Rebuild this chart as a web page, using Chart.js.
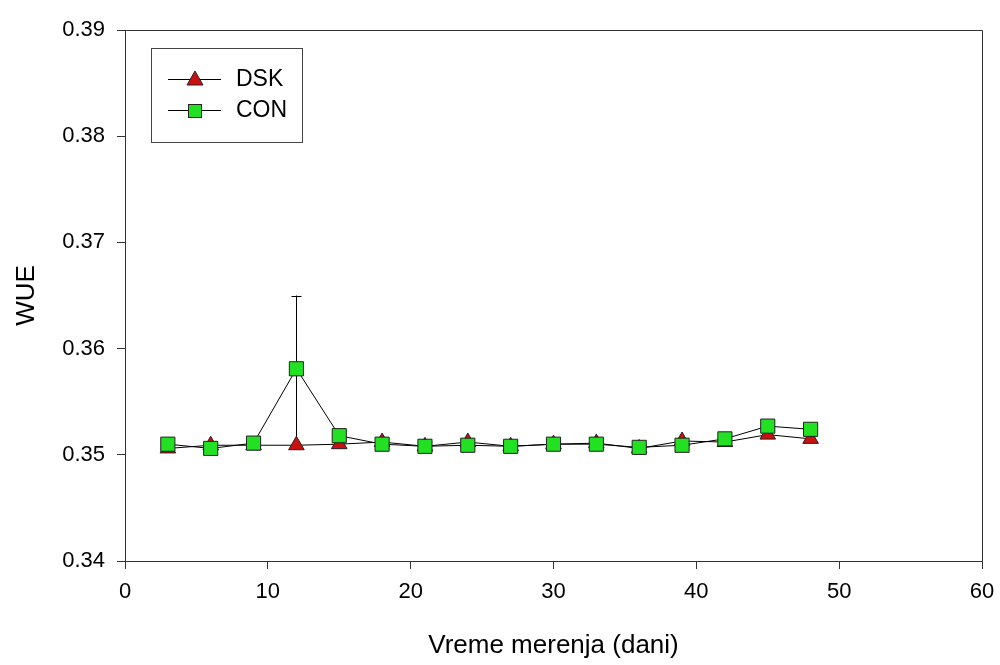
<!DOCTYPE html>
<html>
<head>
<meta charset="utf-8">
<script src="https://cdn.jsdelivr.net/npm/chart.js@4"></script>
<style>
html,body{margin:0;padding:0;background:#fff;}
canvas{display:block;}
</style>
</head>
<body>
<canvas id="c" width="1000" height="665"></canvas>
<script>
const days = [3, 6, 9, 12, 15, 18, 21, 24, 27, 30, 33, 36, 39, 42, 45, 48];
const dskValues = [0.3506, 0.3509, 0.3509, 0.3509, 0.3510, 0.3512, 0.3508, 0.3512, 0.3508, 0.3510, 0.3511, 0.3506, 0.3513, 0.3512, 0.3519, 0.3515];
const conValues = [0.3510, 0.3506, 0.3511, 0.3581, 0.3518, 0.3510, 0.3508, 0.3509, 0.3508, 0.3510, 0.3510, 0.3507, 0.3509, 0.3515, 0.3527, 0.3524];
const conErrors = [0, 0, 0, 0.0069, 0, 0, 0, 0, 0, 0, 0, 0, 0, 0, 0, 0];
const seriesNames = ['DSK', 'CON'];
const xTitle = 'Vreme merenja (dani)';
const yTitle = 'WUE';

const FONT = 'Arial, "Liberation Sans", sans-serif';
const RED = '#cc1010';
const GREEN = '#22e022';
const AXIS = '#333333';

const errorBars = {
  id: 'errorBars',
  beforeDatasetsDraw(chart) {
    const ctx = chart.ctx, xs = chart.scales.x, ys = chart.scales.y;
    ctx.save();
    ctx.strokeStyle = '#000';
    ctx.lineWidth = 1;
    days.forEach((d, i) => {
      const e = conErrors[i];
      if (!e) return;
      const px = Math.round(xs.getPixelForValue(d)) + 0.5;
      const top = ys.getPixelForValue(conValues[i] + e);
      const bot = ys.getPixelForValue(conValues[i] - e);
      ctx.beginPath();
      ctx.moveTo(px, top); ctx.lineTo(px, bot);
      ctx.moveTo(px - 5, Math.round(top) + 0.5); ctx.lineTo(px + 5, Math.round(top) + 0.5);
      ctx.stroke();
    });
    ctx.restore();
  }
};

const frame = {
  id: 'frame',
  afterDraw(chart) {
    const ctx = chart.ctx, a = chart.chartArea;
    ctx.save();
    ctx.strokeStyle = AXIS;
    ctx.lineWidth = 1;
    ctx.beginPath();
    ctx.moveTo(Math.round(a.left) + 0.5, Math.round(a.top) + 0.5);
    ctx.lineTo(Math.round(a.right) + 0.5, Math.round(a.top) + 0.5);
    ctx.lineTo(Math.round(a.right) + 0.5, Math.round(a.bottom) + 0.5);
    ctx.stroke();
    // legend box
    const lx = 151, ly = 48, lw = 151, lh = 94;
    ctx.strokeStyle = '#444';
    ctx.strokeRect(lx + 0.5, ly + 0.5, lw, lh);
    const rows = [{y: 79, ds: chart.data.datasets[0]}, {y: 110, ds: chart.data.datasets[1]}];
    rows.forEach((r, i) => {
      ctx.strokeStyle = '#000';
      ctx.beginPath();
      ctx.moveTo(168, r.y + 0.5); ctx.lineTo(221, r.y + 0.5);
      ctx.stroke();
      ctx.fillStyle = r.ds.pointBackgroundColor;
      ctx.strokeStyle = '#222';
      if (i === 0) {
        ctx.beginPath();
        ctx.moveTo(195, r.y - 8); ctx.lineTo(203, r.y + 6); ctx.lineTo(187, r.y + 6); ctx.closePath();
        ctx.fill(); ctx.stroke();
      } else {
        ctx.fillRect(188, r.y - 6, 14, 14);
        ctx.strokeRect(188.5, r.y - 5.5, 13, 13);
      }
      ctx.fillStyle = '#000';
      ctx.font = '23px ' + FONT;
      ctx.textBaseline = 'middle';
      ctx.textAlign = 'left';
      ctx.fillText(seriesNames[i], 236, r.y + 1);
    });
    ctx.restore();
  }
};

new Chart(document.getElementById('c'), {
  type: 'line',
  data: {
    datasets: [
      {
        label: seriesNames[0],
        data: days.map((d, i) => ({x: d, y: dskValues[i]})),
        borderColor: '#000', borderWidth: 1,
        pointStyle: 'triangle', pointRadius: 9,
        pointBackgroundColor: RED, pointBorderColor: '#222', pointBorderWidth: 1,
        order: 1, tension: 0
      },
      {
        label: seriesNames[1],
        data: days.map((d, i) => ({x: d, y: conValues[i]})),
        borderColor: '#000', borderWidth: 1,
        pointStyle: 'rect', pointRadius: 10,
        pointBackgroundColor: GREEN, pointBorderColor: '#222', pointBorderWidth: 1,
        order: 0, tension: 0
      }
    ]
  },
  options: {
    responsive: false,
    animation: false,
    devicePixelRatio: 1,
    layout: {padding: {top: 30, right: 18, left: 0, bottom: 0}},
    plugins: {legend: {display: false}, tooltip: {enabled: false}},
    scales: {
      x: {
        type: 'linear', min: 0, max: 60,
        ticks: {stepSize: 10, color: '#000', font: {family: FONT, size: 22}, padding: 10, maxRotation: 0},
        grid: {drawOnChartArea: false, drawTicks: true, tickLength: 8, color: AXIS},
        border: {display: true, color: AXIS, width: 1},
        title: {display: true, text: xTitle, color: '#000', font: {family: FONT, size: 26}, padding: {top: 0, bottom: 4}},
        afterFit(s) { s.height = 104; s.paddingLeft = 0; s.paddingRight = 0; }
      },
      y: {
        type: 'linear', min: 0.34, max: 0.39,
        ticks: {stepSize: 0.01, color: '#000', font: {family: FONT, size: 22}, padding: 12,
          callback: v => v.toFixed(2)},
        grid: {drawOnChartArea: false, drawTicks: true, tickLength: 8, color: AXIS},
        border: {display: true, color: AXIS, width: 1},
        title: {display: true, text: yTitle, color: '#000', font: {family: FONT, size: 26}, padding: {top: 11, bottom: 0}},
        afterFit(s) { s.width = 125; s.paddingTop = 0; s.paddingBottom = 0; }
      }
    }
  },
  plugins: [errorBars, frame]
});
</script>
</body>
</html>
